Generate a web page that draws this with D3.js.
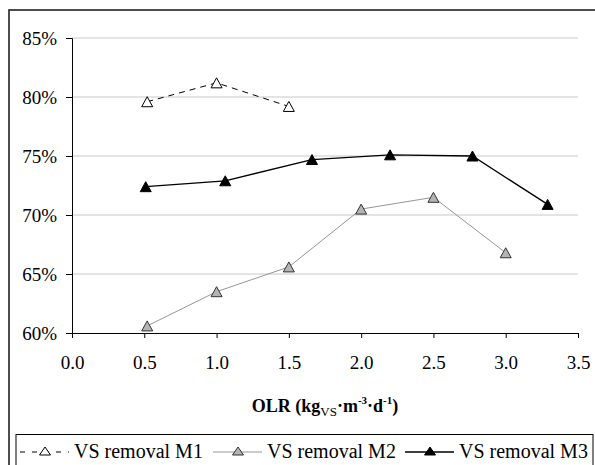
<!DOCTYPE html>
<html>
<head>
<meta charset="utf-8">
<script src="https://cdn.jsdelivr.net/npm/d3@7"></script>
<style>
  body { margin: 0; background: #fff; }
</style>
</head>
<body>
<div id="chart"></div>
<script>
// data
const olrM1 = [0.52, 1.0, 1.5];
const vsM1 = [79.6, 81.2, 79.2];
const olrM2 = [0.52, 1.0, 1.5, 2.0, 2.5, 3.0];
const vsM2 = [60.6, 63.5, 65.6, 70.5, 71.5, 66.8];
const olrM3 = [0.51, 1.06, 1.66, 2.2, 2.77, 3.29];
const vsM3 = [72.4, 72.9, 74.7, 75.1, 75.0, 70.9];
const xTicks = [0, 0.5, 1.0, 1.5, 2.0, 2.5, 3.0, 3.5];
const yTicks = [60, 65, 70, 75, 80, 85];
const seriesNames = ["VS removal M1", "VS removal M2", "VS removal M3"];

const FONT = "'Liberation Serif', 'Times New Roman', serif";

const W = 595, H = 465;
const margin = {top: 38, right: 17, bottom: 132, left: 72},
    width = W - margin.left - margin.right,
    height = H - margin.top - margin.bottom;

const svg = d3.select("#chart")
  .append("svg")
  .attr("width", W)
  .attr("height", H)
  .style("font-family", FONT);

// outer frame (runs off the right and bottom edges like the reference)
svg.append("rect")
  .attr("x", 9).attr("y", 10)
  .attr("width", 620).attr("height", 500)
  .attr("fill", "none")
  .attr("stroke", "#222")
  .attr("stroke-width", 1.6);

const g = svg.append("g")
  .attr("transform", `translate(${margin.left}, ${margin.top})`);

const x = d3.scaleLinear().domain([0, 3.5]).range([0, width]);
const y = d3.scaleLinear().domain([60, 85]).range([height, 0]);

// gridlines
g.selectAll(".grid")
  .data(yTicks.filter(d => d > 60))
  .join("line")
    .attr("x1", 0).attr("x2", width)
    .attr("y1", d => y(d)).attr("y2", d => y(d))
    .attr("stroke", "#c8c8c8")
    .attr("stroke-width", 1);

// axes
const yAxis = g.append("g")
  .call(d3.axisLeft(y).tickValues(yTicks).tickSize(6).tickPadding(9)
    .tickFormat(d => d + "%"));
const xAxis = g.append("g")
  .attr("transform", `translate(0, ${height})`)
  .call(d3.axisBottom(x).tickValues(xTicks).tickSize(5).tickPadding(18)
    .tickFormat(d3.format(".1f")));

[yAxis, xAxis].forEach(a => {
  a.attr("font-family", null).attr("font-size", 19);
  a.selectAll("path, line").attr("stroke", "#000").attr("stroke-width", 1);
  a.selectAll("text").attr("fill", "#000");
});

// x axis title
const title = svg.append("text")
  .attr("x", 325).attr("y", 412)
  .attr("text-anchor", "middle")
  .attr("font-size", 18)
  .attr("font-weight", "bold");
title.append("tspan").text("OLR (kg");
title.append("tspan").attr("dy", 4).attr("font-size", 13).attr("font-weight", "normal").text("VS");
title.append("tspan").attr("dy", -4).text("·m");
title.append("tspan").attr("dy", -8).attr("font-size", 11).text("-3");
title.append("tspan").attr("dy", 8).text("·d");
title.append("tspan").attr("dy", -8).attr("font-size", 11).text("-1");
title.append("tspan").attr("dy", 8).text(")");

// triangle marker centred on its bounding box
function tri(w, h) {
  return `M0,${-h / 2}L${w / 2},${h / 2}L${-w / 2},${h / 2}Z`;
}

const series = [
  {xs: olrM1, ys: vsM1, line: "#000", dash: "6,5", fill: "#fff", mStroke: "#000", lw: 1},
  {xs: olrM2, ys: vsM2, line: "#969696", dash: null, fill: "#b4b4b4", mStroke: "#333", lw: 1},
  {xs: olrM3, ys: vsM3, line: "#000", dash: null, fill: "#000", mStroke: "#000", lw: 1.3}
];

const line = d3.line().x(d => x(d[0])).y(d => y(d[1]));

series.forEach(s => {
  const pts = s.xs.map((v, i) => [v, s.ys[i]]);
  g.append("path")
    .datum(pts)
    .attr("d", line)
    .attr("fill", "none")
    .attr("stroke", s.line)
    .attr("stroke-width", s.lw)
    .attr("stroke-dasharray", s.dash);
  g.selectAll(null)
    .data(pts)
    .join("path")
      .attr("d", tri(11, 10))
      .attr("transform", d => `translate(${x(d[0])}, ${y(d[1])})`)
      .attr("fill", s.fill)
      .attr("stroke", s.mStroke)
      .attr("stroke-width", 1);
});

// legend
svg.append("rect")
  .attr("x", 16).attr("y", 434.5)
  .attr("width", 577).attr("height", 50)
  .attr("fill", "#fff")
  .attr("stroke", "#000")
  .attr("stroke-width", 1);

const legendX = [20, 213, 405];
const ly = 452;
series.forEach((s, i) => {
  const lg = svg.append("g").attr("transform", `translate(${legendX[i]}, ${ly})`);
  lg.append("line")
    .attr("x1", 0).attr("x2", 49)
    .attr("y1", 0).attr("y2", 0)
    .attr("stroke", s.line)
    .attr("stroke-width", s.lw)
    .attr("stroke-dasharray", s.dash ? "5,7" : null);
  lg.append("path")
    .attr("d", tri(11, 8))
    .attr("transform", "translate(25, -1)")
    .attr("fill", s.fill)
    .attr("stroke", s.mStroke)
    .attr("stroke-width", 1);
  lg.append("text")
    .attr("x", 54).attr("y", 6)
    .attr("font-size", 20)
    .text(seriesNames[i]);
});
</script>
</body>
</html>
